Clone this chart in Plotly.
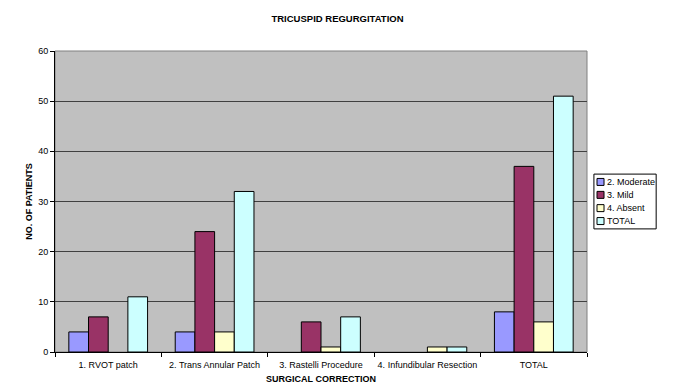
import plotly.graph_objects as go

categories = ["1. RVOT patch", "2. Trans Annular Patch", "3. Rastelli Procedure",
              "4. Infundibular Resection", "TOTAL"]
moderate = [4, 4, 0, 0, 8]
mild = [7, 24, 6, 0, 37]
absent = [0, 4, 1, 1, 6]
total = [11, 32, 7, 1, 51]

series = [
    ("2. Moderate", moderate, "#9999FF"),
    ("3. Mild", mild, "#993366"),
    ("4. Absent", absent, "#FFFFCC"),
    ("TOTAL", total, "#CCFFFF"),
]

font_family = "Liberation Sans, Arial, sans-serif"

fig = go.Figure()
for name, vals, color in series:
    # empty bars get no outline so nothing is drawn at zero
    widths = [1 if v > 0 else 0 for v in vals]
    fig.add_trace(go.Bar(
        name=name, x=categories, y=vals, showlegend=False,
        marker=dict(color=color, line=dict(color="#000000", width=widths)),
    ))

# legend box drawn next to the plot area
lx0, lx1, ly0, ly1 = 1.013, 1.130, 0.409, 0.591
fig.add_shape(type="rect", xref="paper", yref="paper", x0=lx0, x1=lx1, y0=ly0, y1=ly1,
              line=dict(color="#000000", width=1), fillcolor="white")
entry_y = [0.565, 0.522, 0.478, 0.435]
for (name, _, color), ey in zip(series, entry_y):
    fig.add_shape(type="rect", xref="paper", yref="paper",
                  x0=1.0188, x1=1.0320, y0=ey - 0.0116, y1=ey + 0.0116,
                  line=dict(color="#000000", width=1), fillcolor=color)
    fig.add_annotation(xref="paper", yref="paper", x=1.034, y=ey, text=name,
                       showarrow=False, xanchor="left", yanchor="middle",
                       font=dict(size=9, family=font_family, color="#000000"))

fig.update_layout(
    width=675, height=387,
    margin=dict(l=55, r=88, t=51, b=35),
    paper_bgcolor="white",
    plot_bgcolor="#C0C0C0",
    barmode="group",
    bargap=0.26,
    bargroupgap=0,
    font=dict(family=font_family, size=9, color="#000000"),
    title=dict(text="<b>TRICUSPID REGURGITATION</b>", x=0.5, xanchor="center",
               y=0.953, yanchor="middle",
               font=dict(size=9.5, family=font_family, color="#000000")),
    xaxis=dict(
        title=dict(text="<b>SURGICAL CORRECTION</b>", standoff=6,
                   font=dict(size=9, family=font_family)),
        tickson="boundaries", ticks="outside", ticklen=4, tickcolor="#000000",
        tickangle=0, automargin=False, ticklabelstandoff=4,
        showline=True, linecolor="#000000", linewidth=1,
        showgrid=False,
        tickfont=dict(size=9, family=font_family),
    ),
    yaxis=dict(
        title=dict(text="<b>NO. OF PATIENTS</b>", standoff=4,
                   font=dict(size=9, family=font_family)),
        range=[0, 60], dtick=10, automargin=False,
        ticks="outside", ticklen=4, tickcolor="#000000",
        showline=True, linecolor="#000000", linewidth=1,
        showgrid=True, gridcolor="#404040", gridwidth=1,
        zeroline=False,
        tickfont=dict(size=9, family=font_family),
    ),
)

# gray frame on the top and right sides of the plot area
fig.add_shape(type="rect", xref="paper", yref="paper", x0=0, y0=0, x1=1, y1=1,
              line=dict(color="#808080", width=1), layer="below")

fig.write_html("out.html")
